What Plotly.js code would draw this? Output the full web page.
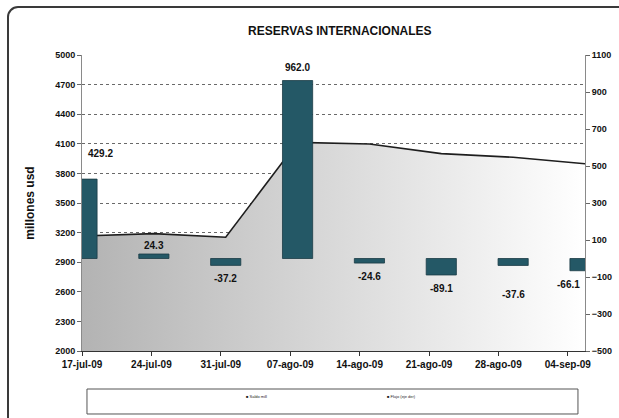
<!DOCTYPE html>
<html>
<head>
<meta charset="utf-8">
<script src="https://cdn.plot.ly/plotly-3.0.1.min.js"></script>
<style>
  html, body { margin: 0; padding: 0; background: #fff; overflow: hidden; }
  #wrap { position: relative; width: 619px; height: 418px; overflow: hidden; }
  #chart { width: 619px; height: 418px; }
  #frame { position: absolute; left: 7px; top: 6px; width: 700px; height: 500px;
           border: 2px solid #3a3a3a; border-radius: 11px; pointer-events: none; box-sizing: border-box; }
</style>
</head>
<body>
<div id="wrap"><div id="chart"></div><div id="frame"></div></div>
<script>
// ---- data ----
const dates = ["17-jul-09", "24-jul-09", "31-jul-09", "07-ago-09", "14-ago-09", "21-ago-09", "28-ago-09", "04-sep-09"];
const saldo = [3165.5, 3189.8, 3152.6, 4114.6, 4098.0, 4000.9, 3963.3, 3897.2];   // millones usd (left axis)
const flujo = [429.2, 24.3, -37.2, 962.0, -24.6, -89.1, -37.6, -66.1];             // variación (right axis)
const leftTicks = [2000, 2300, 2600, 2900, 3200, 3500, 3800, 4100, 4400, 4700, 5000];
const rightTicks = [-500, -300, -100, 100, 300, 500, 700, 900, 1100];
const legendNames = ["Saldo mill", "Flujo (eje der)"];

// ---- style ----
const idx = dates.map((d, i) => i);
const tickStep = 0.9658;               // category labels in the original sit on a slightly tighter spacing
const labelNudgeX = [18, 0, 0, 0, 0, 0, 0, -17];
const labelNudgeY = [17, 0, 0, 5, 0, 0, 16, 0];
const font = "Arial, 'Liberation Sans', sans-serif";

const area = {
  x: idx, y: saldo, type: "scatter", mode: "lines", name: legendNames[0],
  fill: "tozeroy",
  fillgradient: { type: "horizontal", colorscale: [[0, "#b3b3b3"], [1, "#ffffff"]] },
  line: { color: "#1e1e1e", width: 1.6 },
  xaxis: "x", yaxis: "y", hoverinfo: "skip"
};
const bars = {
  x: idx, y: flujo, type: "bar", name: legendNames[1], width: 0.42,
  marker: { color: "#245866", line: { color: "#1a3b45", width: 0.8 } },
  xaxis: "x", yaxis: "y2", hoverinfo: "skip"
};

const annotations = flujo.map((v, i) => ({
  x: i, y: v, xref: "x", yref: "y2",
  text: "<b>" + v.toFixed(1) + "</b>", showarrow: false,
  yanchor: v >= 0 ? "bottom" : "top",
  xshift: labelNudgeX[i],
  yshift: v >= 0 ? 1 + labelNudgeY[i] : -6 - labelNudgeY[i],
  font: { family: font, size: 10, color: "#111" }
}));
// legend (tiny, as in the original)
annotations.push(
  { xref: "paper", yref: "paper", x: 0.322, y: -0.169, text: "■ " + legendNames[0], showarrow: false,
    font: { family: font, size: 4, color: "#222" } },
  { xref: "paper", yref: "paper", x: 0.668, y: -0.169, text: "■ " + legendNames[1], showarrow: false,
    font: { family: font, size: 4, color: "#222" } }
);

const layout = {
  width: 619, height: 418,
  margin: { l: 82, r: 34, t: 55, b: 67 },
  paper_bgcolor: "rgba(0,0,0,0)", plot_bgcolor: "#ffffff",
  showlegend: false,
  title: { text: "<b>RESERVAS INTERNACIONALES</b>", x: 0.549, xanchor: "center", y: 0.926, yanchor: "middle",
           yref: "container", font: { family: font, size: 12, color: "#111" } },
  xaxis: {
    range: [0, 7], tickmode: "array", tickvals: idx.map(i => i * tickStep), ticktext: dates,
    showline: true, linecolor: "#333", linewidth: 1, ticks: "outside", ticklen: 4, tickcolor: "#333",
    showgrid: false, zeroline: false,
    tickfont: { family: font, size: 10, color: "#111", weight: "bold" }
  },
  yaxis: {
    range: [2000, 5000], tickmode: "array", tickvals: leftTicks,
    showline: true, linecolor: "#8a8a8a", linewidth: 1, ticks: "outside", ticklen: 4, tickcolor: "#666",
    showgrid: true, gridcolor: "#444", griddash: "dot", gridwidth: 0.8, zeroline: false,
    tickfont: { family: font, size: 9, color: "#111", weight: "bold" },
    title: { text: "<b>millones usd</b>", standoff: 17, font: { family: font, size: 12, color: "#111" } }
  },
  yaxis2: {
    range: [-500, 1100], overlaying: "y", side: "right", tickmode: "array", tickvals: rightTicks,
    showline: true, linecolor: "#8a8a8a", linewidth: 1, ticks: "outside", ticklen: 4, tickcolor: "#666",
    showgrid: false, zeroline: false,
    tickfont: { family: font, size: 9, color: "#111", weight: "bold" }
  },
  shapes: [
    { type: "line", xref: "paper", yref: "paper", x0: 0, x1: 1, y0: 1, y1: 1, layer: "between",
      line: { color: "#ffffff", width: 2 } },
    { type: "rect", xref: "paper", yref: "paper", x0: 0.0099, x1: 0.986, y0: -0.2128, y1: -0.1284,
      line: { color: "#555", width: 1 }, fillcolor: "rgba(0,0,0,0)" }
  ],
  annotations: annotations
};

Plotly.newPlot("chart", [area, bars], layout, { displayModeBar: false, staticPlot: true });
</script>
</body>
</html>
